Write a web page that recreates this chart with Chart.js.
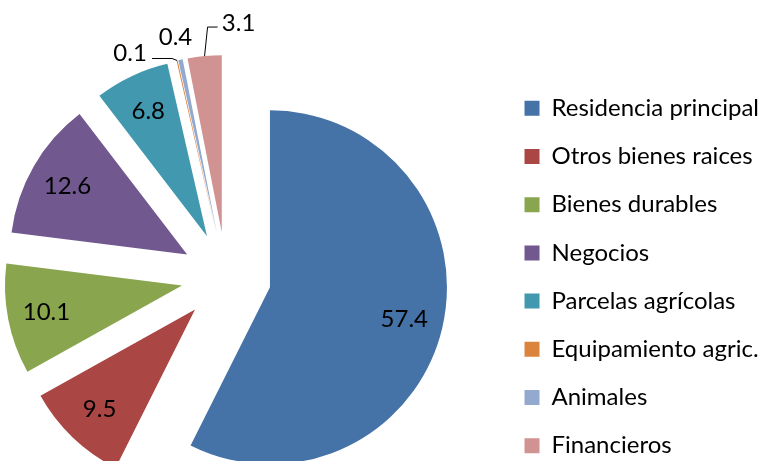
<!DOCTYPE html>
<html>
<head>
<meta charset="utf-8">
<script src="https://cdn.jsdelivr.net/npm/chart.js@4.4.1/dist/chart.umd.min.js"></script>
<style>
  html, body { margin: 0; padding: 0; background: #fff; overflow: hidden; }
  body { width: 766px; height: 461px; position: relative; }
  /* canvas is a bit bigger than the window so the pie centre lands where it does in the original */
  #wrap { position: absolute; left: -48px; top: 0; width: 817px; height: 554px; }
</style>
</head>
<body>
<div id="wrap"><canvas id="pie"></canvas></div>
<script>
const CATEGORIES = ["Residencia principal", "Otros bienes raices", "Bienes durables", "Negocios",
                    "Parcelas agrícolas", "Equipamiento agric.", "Animales", "Financieros"];
const SHARES = [57.4, 9.5, 10.1, 12.6, 6.8, 0.1, 0.4, 3.1];
const COLORS = ["#4572A7", "#AA4643", "#89A54E", "#71588F", "#4198AF", "#DB843D", "#93A9CF", "#D19392"];

const RADIUS = 177;
const EXPLODE = 45;
const FONT_FAMILY = "Lato";
const FONT_SIZE = 24;

// small slices: label sits outside, offsets from the middle of the outer edge
const OUTSIDE = {
    5: { text: [-47, -7], line: [[0, 0], [-5, -2], [-25, -2]] },
    6: { text: [-5, -22], line: null },
    7: { text: [34, -33], line: [[0, 0], [3, -29], [13, -29]] }
};

// push every slice out along its middle angle (Chart.js "offset" also grows the radius)
const explodePlugin = {
    id: "explode",
    afterDatasetUpdate(chart, args) {
        args.meta.data.forEach(arc => {
            const mid = (arc.startAngle + arc.endAngle) / 2;
            arc.x += Math.cos(mid) * EXPLODE;
            arc.y += Math.sin(mid) * EXPLODE;
        });
    }
};

const labelPlugin = {
    id: "sliceLabels",
    afterDatasetsDraw(chart) {
        const ctx = chart.ctx;
        const arcs = chart.getDatasetMeta(0).data;
        ctx.save();
        ctx.font = `${FONT_SIZE}px ${FONT_FAMILY}`;
        ctx.fillStyle = "#000";
        ctx.strokeStyle = "#000";
        ctx.lineWidth = 1;
        ctx.textAlign = "center";
        ctx.textBaseline = "middle";
        arcs.forEach((arc, i) => {
            const mid = (arc.startAngle + arc.endAngle) / 2;
            const txt = SHARES[i].toFixed(1);
            const out = OUTSIDE[i];
            if (!out) {
                const r = arc.outerRadius * 0.78;
                ctx.fillText(txt, arc.x + Math.cos(mid) * r, arc.y + Math.sin(mid) * r);
                return;
            }
            const ex = arc.x + Math.cos(mid) * arc.outerRadius;
            const ey = arc.y + Math.sin(mid) * arc.outerRadius;
            if (out.line) {
                ctx.beginPath();
                out.line.forEach(([dx, dy], k) => {
                    if (k) ctx.lineTo(ex + dx, ey + dy);
                    else ctx.moveTo(ex + dx, ey + dy);
                });
                ctx.stroke();
            }
            ctx.fillText(txt, ex + out.text[0], ey + out.text[1]);
        });
        ctx.restore();
    }
};

new Chart(document.getElementById("pie"), {
    type: "pie",
    data: {
        labels: CATEGORIES,
        datasets: [{
            data: SHARES,
            backgroundColor: COLORS,
            borderWidth: 0
        }]
    },
    options: {
        responsive: true,
        maintainAspectRatio: false,
        animation: false,
        events: [],
        radius: RADIUS,
        layout: { padding: 0 },
        plugins: {
            legend: {
                position: "right",
                labels: {
                    color: "#000",
                    font: { family: FONT_FAMILY, size: FONT_SIZE },
                    boxWidth: 15,
                    boxHeight: 15,
                    padding: 24.2
                }
            },
            tooltip: { enabled: false }
        }
    },
    plugins: [explodePlugin, labelPlugin]
});
</script>
</body>
</html>
